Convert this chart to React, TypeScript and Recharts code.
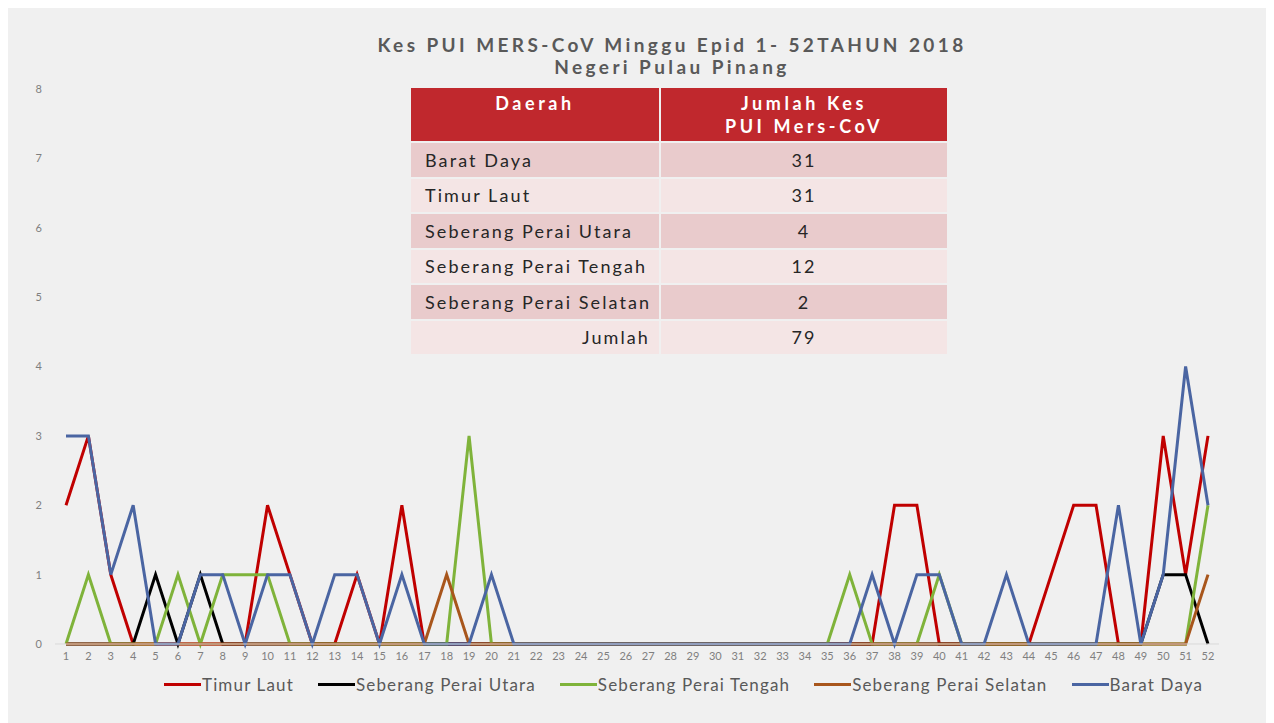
import React from 'react';
import { LineChart, Line, XAxis, YAxis, Legend } from 'recharts';

const weeks = [
  '1', '2', '3', '4', '5', '6', '7', '8', '9', '10', '11', '12', '13',
  '14', '15', '16', '17', '18', '19', '20', '21', '22', '23', '24', '25', '26',
  '27', '28', '29', '30', '31', '32', '33', '34', '35', '36', '37', '38', '39',
  '40', '41', '42', '43', '44', '45', '46', '47', '48', '49', '50', '51', '52',
];

// weekly case counts per district
const timurLaut = [
  2, 3, 1, 0, 0, 0, 0, 0, 0, 2, 1, 0, 0,
  1, 0, 2, 0, 0, 0, 0, 0, 0, 0, 0, 0, 0,
  0, 0, 0, 0, 0, 0, 0, 0, 0, 0, 0, 2, 2,
  0, 0, 0, 0, 0, 1, 2, 2, 0, 0, 3, 1, 3,
];
const seberangUtara = [
  0, 0, 0, 0, 1, 0, 1, 0, 0, 0, 0, 0, 0,
  0, 0, 0, 0, 0, 0, 0, 0, 0, 0, 0, 0, 0,
  0, 0, 0, 0, 0, 0, 0, 0, 0, 0, 0, 0, 0,
  0, 0, 0, 0, 0, 0, 0, 0, 0, 0, 1, 1, 0,
];
const seberangTengah = [
  0, 1, 0, 0, 0, 1, 0, 1, 1, 1, 0, 0, 0,
  0, 0, 0, 0, 0, 3, 0, 0, 0, 0, 0, 0, 0,
  0, 0, 0, 0, 0, 0, 0, 0, 0, 1, 0, 0, 0,
  1, 0, 0, 0, 0, 0, 0, 0, 0, 0, 0, 0, 2,
];
const seberangSelatan = [
  0, 0, 0, 0, 0, 0, 0, 0, 0, 0, 0, 0, 0,
  0, 0, 0, 0, 1, 0, 0, 0, 0, 0, 0, 0, 0,
  0, 0, 0, 0, 0, 0, 0, 0, 0, 0, 0, 0, 0,
  0, 0, 0, 0, 0, 0, 0, 0, 0, 0, 0, 0, 1,
];
const baratDaya = [
  3, 3, 1, 2, 0, 0, 1, 1, 0, 1, 1, 0, 1,
  1, 0, 1, 0, 0, 0, 1, 0, 0, 0, 0, 0, 0,
  0, 0, 0, 0, 0, 0, 0, 0, 0, 0, 1, 0, 1,
  1, 0, 0, 1, 0, 0, 0, 0, 2, 0, 1, 4, 2,
];

const yTicks = [0, 1, 2, 3, 4, 5, 6, 7, 8];

// summary table
const tableRegions = ['Barat Daya', 'Timur Laut', 'Seberang Perai Utara', 'Seberang Perai Tengah', 'Seberang Perai Selatan'];
const tableCounts = [31, 31, 4, 12, 2];
const tableTotal = 79;

const series = [
  { key: 'timurLaut', name: 'Timur Laut', color: '#c00000' },
  { key: 'seberangUtara', name: 'Seberang Perai Utara', color: '#000000' },
  { key: 'seberangTengah', name: 'Seberang Perai Tengah', color: '#7fb33a' },
  { key: 'seberangSelatan', name: 'Seberang Perai Selatan', color: '#a8561c' },
  { key: 'baratDaya', name: 'Barat Daya', color: '#4a65a2' },
];

const data = weeks.map((w, i) => ({
  week: w,
  timurLaut: timurLaut[i],
  seberangUtara: seberangUtara[i],
  seberangTengah: seberangTengah[i],
  seberangSelatan: seberangSelatan[i],
  baratDaya: baratDaya[i],
}));

const FONT = 'Lato, "Open Sans", sans-serif';
const TEXT = '#595959';

const renderLegend = () => (
  <div style={{
    display: 'flex', alignItems: 'center', height: 20, width: 1266, paddingLeft: 156,
    boxSizing: 'border-box', whiteSpace: 'nowrap',
    fontFamily: FONT, fontSize: 17, letterSpacing: 1.15, color: TEXT,
  }}>
    {series.map(s => (
      <div key={s.key} style={{ display: 'flex', alignItems: 'center', flexShrink: 0, marginRight: 24 }}>
        <span style={{ display: 'inline-block', width: 37, height: 3, background: s.color, marginRight: 1 }} />
        <span>{s.name}</span>
      </div>
    ))}
  </div>
);

const cell: React.CSSProperties = {
  display: 'flex',
  alignItems: 'center',
  fontSize: 18,
  letterSpacing: 2.1,
  color: '#262626',
};

const head: React.CSSProperties = {
  background: '#c0282d',
  color: '#fff',
  fontWeight: 700,
  fontSize: 18,
  letterSpacing: 3.6,
  textAlign: 'center',
  paddingTop: 4,
  lineHeight: '23px',
};

const SummaryTable = () => {
  const rows = tableRegions.map((r, i) => ({ name: r, count: tableCounts[i] }));
  return (
    <div style={{
      position: 'absolute', left: 403, top: 80, display: 'grid',
      gridTemplateColumns: '248px 286px', gridTemplateRows: '53px repeat(6, 33.5px)',
      gap: 2, fontFamily: FONT,
    }}>
      <div style={head}>Daerah</div>
      <div style={head}>
        Jumlah Kes<br />PUI Mers-CoV
      </div>
      {rows.map((r, i) => {
        const bg = i % 2 === 0 ? '#e9cbcc' : '#f4e5e5';
        return (
          <React.Fragment key={r.name}>
            <div style={{ ...cell, background: bg, paddingLeft: 14 }}>{r.name}</div>
            <div style={{ ...cell, background: bg, justifyContent: 'center' }}>{r.count}</div>
          </React.Fragment>
        );
      })}
      <div style={{ ...cell, background: '#f4e5e5', justifyContent: 'flex-end', paddingRight: 9 }}>Jumlah</div>
      <div style={{ ...cell, background: '#f4e5e5', justifyContent: 'center' }}>{tableTotal}</div>
    </div>
  );
};

export default function App() {
  return (
    <div style={{ position: 'relative', width: 1266, height: 715, background: '#f0f0f0' }}>
      <LineChart width={1266} height={715} data={data} margin={{ top: 81, right: 55, bottom: 29, left: 0 }}>
        <XAxis
          dataKey="week"
          interval={0}
          tickLine={false}
          axisLine={{ stroke: '#d9d9d9' }}
          padding={{ left: 11, right: 11 }}
          height={30}
          tick={{ fontSize: 11, fill: '#7f7f7f', fontFamily: FONT }}
        />
        <YAxis
          domain={[0, 8]}
          ticks={yTicks}
          width={47}
          axisLine={false}
          tickLine={false}
          tickMargin={7}
          tick={{ fontSize: 11, fill: '#7f7f7f', fontFamily: FONT }}
        />
        <Legend verticalAlign="bottom" height={20} wrapperStyle={{ left: 0, width: 1266 }} content={renderLegend} />
        {series.map(s => (
          <Line
            key={s.key}
            type="linear"
            dataKey={s.key}
            name={s.name}
            stroke={s.color}
            strokeWidth={3}
            dot={false}
            activeDot={false}
            isAnimationActive={false}
          />
        ))}
      </LineChart>
      <div style={{
        position: 'absolute', left: 164, top: 26, width: 1000, textAlign: 'center',
        fontFamily: FONT, fontWeight: 700, fontSize: 19, lineHeight: '22px', color: TEXT, letterSpacing: 3.4,
      }}>
        <div>Kes PUI MERS-CoV Minggu Epid 1- 52TAHUN 2018</div>
        <div>Negeri Pulau Pinang</div>
      </div>
      <SummaryTable />
    </div>
  );
}
